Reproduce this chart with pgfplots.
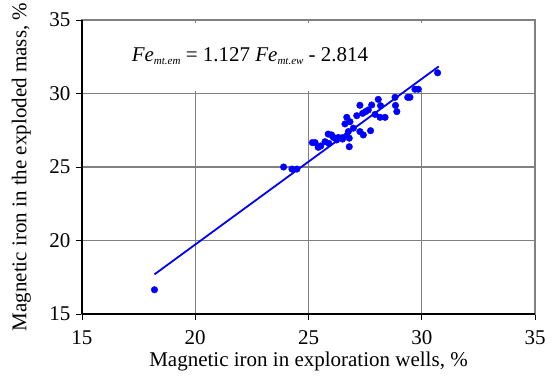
\documentclass[border=0pt]{standalone}
\usepackage{pgfplots}
\pgfplotsset{compat=1.18}
\usepackage{fontspec}
\setmainfont{Liberation Serif}
\definecolor{gridgray}{RGB}{128,128,128}
\begin{document}
\begin{tikzpicture}
\useasboundingbox (-82pt,-62pt) rectangle (470pt,314pt);
\begin{axis}[
  at={(0,0)}, anchor=south west,
  scale only axis,
  width=453pt, height=294pt,
  xmin=15, xmax=35, ymin=15, ymax=35,
  xtick={15,20,25,30,35}, ytick={15,20,25,30,35},
  tick pos=left, tick align=outside,
  major tick length=6pt,
  tick style={black, line width=0.8pt},
  grid=major,
  major grid style={draw=gridgray, line width=1.3pt},
  axis line style={draw=gridgray, line width=1.5pt},
  /pgf/number format/assume math mode=true,
  ticklabel style={font=\fontsize{21}{24}\selectfont},
  xticklabel style={anchor=base, yshift=-24pt},
  yticklabel style={anchor=east, xshift=-2pt},
  label style={font=\fontsize{21}{24}\selectfont},
  xlabel={Magnetic iron in exploration wells, \%},
  ylabel={Magnetic iron in the exploded mass, \%},
  xlabel style={at={(axis description cs:0.5,-0.163)}, anchor=center},
  ylabel style={at={(axis description cs:-0.134,0.5)}, anchor=center},
  clip=false,
]
\fill[white] (rel axis cs:0.04,0.757) rectangle (rel axis cs:0.857,0.99);
\draw[black, line width=1.2pt] (rel axis cs:0,0) -- (rel axis cs:0,1);
\draw[black, line width=1.2pt] (rel axis cs:0,0) -- (rel axis cs:1,0);
\addplot[only marks, mark=*, mark size=3.3pt, color=blue] coordinates {
(18.2,16.65) (23.9,25.0) (24.27,24.86) (24.49,24.86)
(30.70,31.41) (29.70,30.29) (29.85,30.29) (29.38,29.74) (29.48,29.74)
(28.82,29.74) (28.84,29.19) (28.9,28.77) (28.08,29.6) (27.79,29.22)
(28.18,29.17) (27.27,29.2) (27.52,28.77) (27.64,28.88) (27.13,28.49)
(27.39,28.65) (27.94,28.58) (28.16,28.38) (28.38,28.38) (26.69,28.38)
(26.83,28.08) (26.61,27.93) (26.98,27.64) (27.27,27.41) (27.42,27.18)
(27.74,27.47) (26.76,27.41) (26.69,27.12) (26.51,27.0) (26.80,26.96)
(26.32,27.01) (26.24,26.84) (26.10,27.01) (25.87,27.24) (26.02,27.18)
(25.73,26.72) (25.29,26.66) (25.43,26.34) (25.54,26.43) (26.80,26.38)
(25.17,26.66) (26.5,26.9) (25.9,26.6)
};
\addplot[color=blue, line width=1.8pt] coordinates {(18.2,17.697) (30.75,31.841)};
\node[anchor=base west, inner sep=0pt, font=\fontsize{21}{24}\selectfont] at (axis cs:17.19,32.16)
  {\textit{Fe}{\fontsize{11}{12}\selectfont\raisebox{-3pt}{\textit{mt.em}}} = 1.127 \textit{Fe}{\fontsize{11}{12}\selectfont\raisebox{-3pt}{\textit{mt.ew}}} - 2.814};
\end{axis}
\end{tikzpicture}
\end{document}
